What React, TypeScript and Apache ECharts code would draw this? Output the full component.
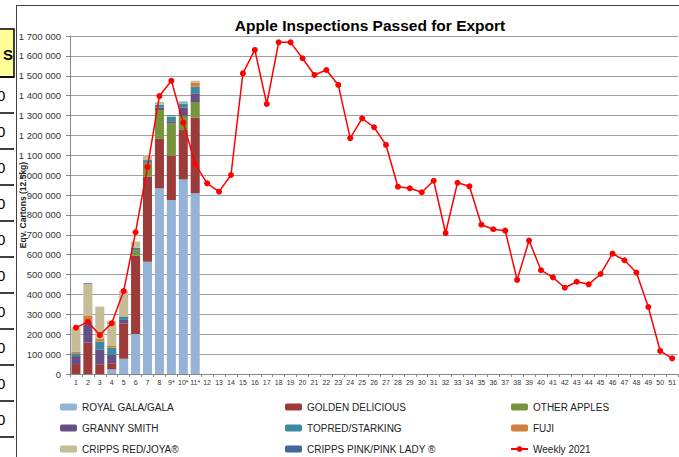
import React, { useEffect, useRef } from "react";
import * as echarts from "echarts";

const weeks = [
  "1", "2", "3", "4", "5", "6", "7", "8", "9*", "10*", "11*", "12", "13", "14", "15", "16", "17",
  "18", "19", "20", "21", "22", "23", "24", "25", "26", "27", "28", "29", "30", "31", "32", "33",
  "34", "35", "36", "37", "38", "39", "40", "41", "42", "43", "44", "45", "46", "47", "48", "49",
  "50", "51",
];

const royalGala = [0, 0, 0, 23000, 77000, 201000, 565000, 934000, 875000, 979000, 909000];
const goldenDelicious = [50000, 157000, 49000, 31000, 176000, 394000, 427000, 251000, 223000, 248000, 380000];
const otherApples = [0, 0, 0, 0, 0, 25000, 68000, 143000, 163000, 71000, 79000];
const grannySmith = [40000, 89000, 75000, 43000, 19000, 3000, 5000, 12000, 10000, 43000, 44000];
const topredStarking = [14000, 17000, 39000, 35000, 16000, 12000, 11000, 15000, 23000, 20000, 33000];
const fuji = [7000, 29000, 13000, 9000, 3000, 0, 0, 0, 0, 0, 21000];
const crippsRedJoya = [124000, 161000, 163000, 127000, 128000, 31000, 25000, 13000, 4000, 6000, 9000];
const crippsPinkLady = [0, 3000, 0, 0, 0, 0, 0, 0, 3000, 3000, 0];

const weekly2021 = [
  233000, 262000, 196000, 255000, 417000, 713000, 1041000, 1398000, 1475000, 1264000, 1056000,
  959000, 917000, 1001000, 1512000, 1630000, 1358000, 1668000, 1668000, 1588000, 1504000,
  1529000, 1454000, 1186000, 1286000, 1241000, 1152000, 942000, 934000, 914000, 972000,
  709000, 962000, 944000, 751000, 728000, 721000, 473000, 671000, 522000, 486000, 434000,
  464000, 451000, 503000, 605000, 572000, 510000, 337000, 116000, 79000,
];

const yTicks = { min: 0, max: 1700000, step: 100000 };

const barSeries = [
  { name: "ROYAL GALA/GALA", data: royalGala, color: "#95B3D7" },
  { name: "GOLDEN DELICIOUS", data: goldenDelicious, color: "#9B3B3A" },
  { name: "OTHER APPLES", data: otherApples, color: "#77933C" },
  { name: "GRANNY SMITH", data: grannySmith, color: "#664F84" },
  { name: "TOPRED/STARKING", data: topredStarking, color: "#3A8BA0" },
  { name: "FUJI", data: fuji, color: "#D07F3C" },
  { name: "CRIPPS RED/JOYA®", data: crippsRedJoya, color: "#C4BD97" },
  { name: "CRIPPS PINK/PINK LADY ®", data: crippsPinkLady, color: "#41679B" },
];

const FONT = "Liberation Sans";

function fmt(v: number) {
  return String(Math.round(v)).replace(/\B(?=(\d{3})+(?!\d))/g, " ");
}

export default function App() {
  const ref = useRef<HTMLDivElement>(null);
  useEffect(() => {
    if (!ref.current) return;
    const chart = echarts.init(ref.current, null, { renderer: "svg" });

    const legendCommon = {
      orient: "vertical" as const,
      itemWidth: 17,
      itemHeight: 7,
      itemGap: 9,
      padding: 0,
      selectedMode: false,
      textStyle: { fontSize: 10, fontFamily: FONT, color: "#222", lineHeight: 12 },
      top: 401,
    };

    const sheetLines: any[] = [];
    const rowYs = [77, 113, 149, 185, 221, 257, 293, 329, 365, 401, 437];
    rowYs.forEach((y) => {
      sheetLines.push({
        type: "line",
        shape: { x1: 0, y1: y, x2: 14, y2: y },
        style: { stroke: "#000", lineWidth: 1.5 },
      });
    });
    rowYs.slice(0, 10).forEach((y) => {
      sheetLines.push({
        type: "text",
        x: -3,
        y: y + 18,
        style: { text: "0", font: "15px " + FONT, fill: "#000", textVerticalAlign: "middle" },
      });
    });

    chart.setOption({
      animation: false,
      backgroundColor: "#fff",
      title: {
        text: "Apple Inspections Passed for Export",
        left: 365,
        top: 12,
        textAlign: "center",
        textStyle: { fontSize: 15.5, fontWeight: "bold", fontFamily: FONT, color: "#000" },
      },
      graphic: [
        {
          type: "rect",
          shape: { x: -2, y: 29, width: 16, height: 48 },
          style: { fill: "#FFFF99", stroke: "#000", lineWidth: 1.5 },
        },
        {
          type: "text",
          x: 3,
          y: 54,
          style: { text: "S", font: "bold 15px " + FONT, fill: "#000", textVerticalAlign: "middle" },
        },
        ...sheetLines,
        {
          type: "line",
          shape: { x1: 16.5, y1: 5, x2: 16.5, y2: 457 },
          style: { stroke: "#404040", lineWidth: 1 },
        },
        {
          type: "line",
          shape: { x1: 16, y1: 5.5, x2: 679, y2: 5.5 },
          style: { stroke: "#404040", lineWidth: 1 },
        },
      ],
      legend: [
        {
          ...legendCommon,
          left: 60,
          data: ["ROYAL GALA/GALA", "GRANNY SMITH", "CRIPPS RED/JOYA®"],
        },
        {
          ...legendCommon,
          left: 285,
          data: ["GOLDEN DELICIOUS", "TOPRED/STARKING", "CRIPPS PINK/PINK LADY ®"],
        },
        {
          ...legendCommon,
          left: 510,
          data: ["OTHER APPLES", "FUJI", "Weekly 2021"],
        },
      ],
      grid: { left: 70, top: 36, width: 612, height: 338, containLabel: false },
      xAxis: {
        type: "category",
        data: weeks,
        boundaryGap: true,
        axisLine: { lineStyle: { color: "#868686", width: 1 } },
        axisTick: { show: true, interval: 0, length: 3, lineStyle: { color: "#868686" } },
        axisLabel: { interval: 0, fontSize: 7, fontFamily: FONT, color: "#333", margin: 5 },
        splitLine: { show: false },
      },
      yAxis: {
        type: "value",
        min: yTicks.min,
        max: yTicks.max,
        interval: yTicks.step,
        name: "Eqv. Cartons (12.5kg)",
        nameLocation: "middle",
        nameRotate: 90,
        nameGap: 43,
        nameMoveOverlap: false,
        nameTextStyle: { fontSize: 8.5, fontFamily: FONT, color: "#222", fontWeight: "bold" },
        axisLine: { show: true, lineStyle: { color: "#868686", width: 1 } },
        axisTick: { show: true, length: 4, inside: false, lineStyle: { color: "#868686" } },
        axisLabel: {
          fontSize: 9.5,
          fontFamily: FONT,
          color: "#333",
          margin: 9,
          formatter: (v: number) => fmt(v),
        },
        splitLine: { show: true, lineStyle: { color: "#A0A0A0", width: 1 } },
      },
      series: [
        ...barSeries.map((s) => ({
          name: s.name,
          type: "bar",
          stack: "total",
          data: s.data,
          barCategoryGap: "24%",
          itemStyle: { color: s.color },
          emphasis: { disabled: true },
        })),
        {
          name: "Weekly 2021",
          type: "line",
          data: weekly2021,
          symbol: "circle",
          symbolSize: 6,
          z: 5,
          lineStyle: { color: "#FF0000", width: 1.5 },
          itemStyle: { color: "#FF0000" },
          emphasis: { disabled: true },
        },
      ],
    });
    return () => chart.dispose();
  }, []);
  return (
    <div
      ref={ref}
      style={{ position: "absolute", left: 0, top: 0, width: 679, height: 457, overflow: "hidden" }}
    />
  );
}
